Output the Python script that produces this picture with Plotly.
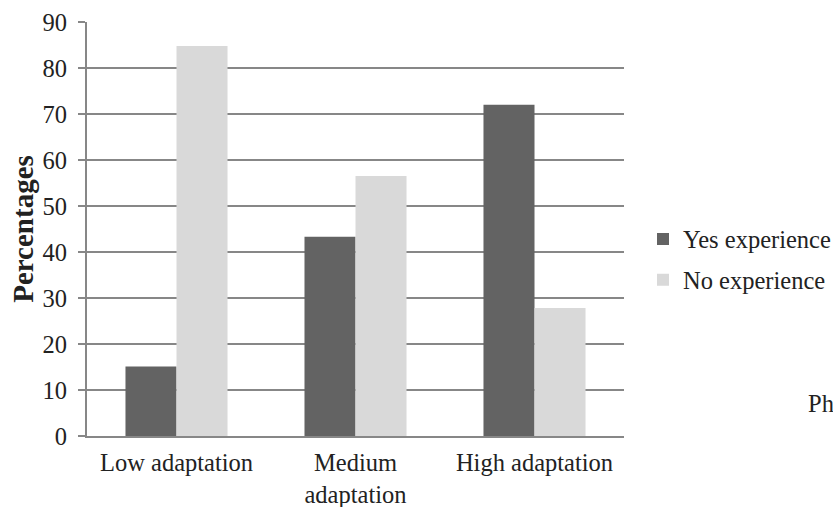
import plotly.graph_objects as go

categories = ["Low adaptation", "Medium<br>adaptation", "High adaptation"]
yes_experience = [15.1, 43.3, 72.0]
no_experience = [84.8, 56.5, 27.8]
y_ticks = [0, 10, 20, 30, 40, 50, 60, 70, 80, 90]

FONT = "Liberation Serif, Times New Roman, serif"
AX = "#878787"
FS = 24.5

fig = go.Figure()
fig.add_trace(go.Bar(name="Yes experience", x=categories, y=yes_experience,
                     marker=dict(color="#636363", line=dict(width=0)), legendgroup="a"))
fig.add_trace(go.Bar(name="No experience", x=categories, y=no_experience,
                     marker=dict(color="#d9d9d9", line=dict(width=0)), legendgroup="b"))

fig.update_layout(
    width=833, height=507,
    margin=dict(l=87, r=209, t=22, b=71),
    paper_bgcolor="white", plot_bgcolor="white",
    font=dict(family=FONT, size=FS, color="#222222"),
    barmode="group", bargap=0.43, bargroupgap=0,
    showlegend=True,
    legend=dict(xref="container", yref="container",
                x=643 / 833, xanchor="left", y=(507 - 259.5) / 507, yanchor="middle",
                traceorder="grouped", tracegroupgap=6, borderwidth=0,
                font=dict(family=FONT, size=FS, color="#222222"),
                bgcolor="rgba(0,0,0,0)"),
    xaxis=dict(showline=True, linecolor=AX, linewidth=2, ticks="", automargin=False,
               ticklabelstandoff=4,
               tickfont=dict(family=FONT, size=FS), showgrid=False),
    yaxis=dict(range=[0, 90], tickvals=y_ticks, showline=True, linecolor=AX, linewidth=2,
               ticks="outside", ticklen=7, tickcolor=AX, tickwidth=2, automargin=False,
               showgrid=True, gridcolor=AX, gridwidth=2, zeroline=False,
               ticklabelstandoff=6,
               tickfont=dict(family=FONT, size=FS),
               title=dict(text="<b>Percentages</b>", font=dict(family=FONT, size=29), standoff=0)),
)

fig.add_annotation(text="Ph", xref="paper", yref="paper", x=(806 - 87) / 537, y=(436 - 403) / 414,
                   xanchor="left", yanchor="middle", showarrow=False,
                   font=dict(family=FONT, size=FS, color="#222222"))

fig.write_html("out.html", config={"displayModeBar": False},
               post_script="document.body.style.margin='0px';")
